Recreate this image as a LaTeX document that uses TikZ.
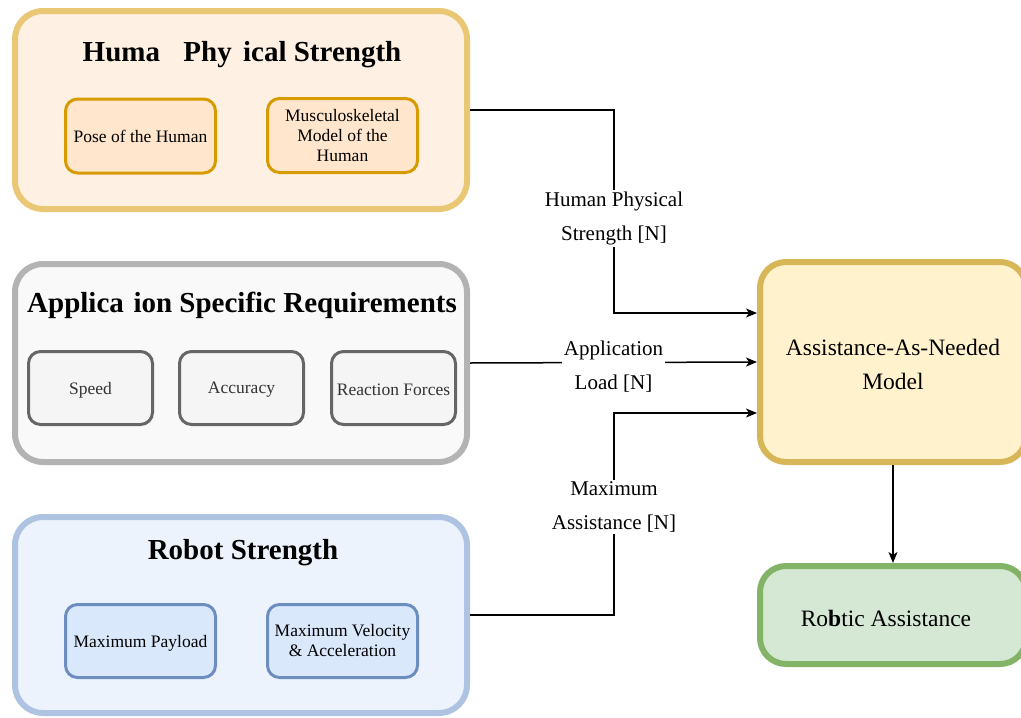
\documentclass[tikz,border=0pt]{standalone}
\usepackage{fontspec}
\setmainfont{Liberation Serif}
\usetikzlibrary{arrows.meta,calc}

\definecolor{humStroke}{HTML}{EAC775}
\definecolor{humFill}{HTML}{FEF1E4}
\definecolor{humInStroke}{HTML}{D79B00}
\definecolor{humInFill}{HTML}{FFE6CC}
\definecolor{appStroke}{HTML}{B3B3B3}
\definecolor{appFill}{HTML}{F9F9F9}
\definecolor{appInStroke}{HTML}{666666}
\definecolor{appInFill}{HTML}{F5F5F5}
\definecolor{appText}{HTML}{333333}
\definecolor{robStroke}{HTML}{AEC3E2}
\definecolor{robFill}{HTML}{EDF3FD}
\definecolor{robInStroke}{HTML}{6C8EBF}
\definecolor{robInFill}{HTML}{DAE8FC}
\definecolor{aanStroke}{HTML}{D6B656}
\definecolor{aanFill}{HTML}{FFF2CC}
\definecolor{raStroke}{HTML}{82B366}
\definecolor{raFill}{HTML}{D5E8D4}

% lower a box's ink without changing its reported size
\newcommand{\lowerby}[2]{\raisebox{-#1}[\height][\depth]{#2}}

\begin{document}
\begin{tikzpicture}[x=1pt,y=-1pt,
  group/.style={draw, line width=6pt, rounded corners=28pt,
    minimum width=452pt, minimum height=198pt, inner sep=0pt},
  part/.style={draw, line width=3pt, rounded corners=12pt,
    minimum width=150pt, minimum height=74pt, inner sep=2pt, align=center,
    font=\fontsize{17.5}{20}\selectfont},
  grouptitle/.style={font=\bfseries\fontsize{29}{32}\selectfont, inner sep=0pt},
  stage/.style={draw, line width=6pt, rounded corners=26pt,
    minimum width=266pt, align=center, inner sep=0pt,
    font=\fontsize{23.5}{34}\selectfont},
  conn/.style={line width=1.5pt, -{Stealth[length=11pt,width=9pt,inset=3pt]}},
  flowlabel/.style={fill=white, align=center, inner sep=2pt,
    font=\fontsize{21}{34}\selectfont}
]
\useasboundingbox (0,0) rectangle (1021,718);
\clip (0,0) rectangle (1021,718);

% ---- Human physical strength group ----
\node[group, draw=humStroke, fill=humFill] (hum) at (241,110) {};
\node[grouptitle] (humT) at (242,55) {Huma\phantom{n} Phy\phantom{s}ical Strength};
\node[part, draw=humInStroke, fill=humInFill] (pose) at (140.5,136) {Pose of the Human};
\node[part, draw=humInStroke, fill=humInFill] (musc) at (342.5,135.5) {Musculoskeletal\\Model of the\\Human};

% ---- Application specific requirements group ----
\node[group, draw=appStroke, fill=appFill] (app) at (241,363) {};
\node[grouptitle] (appT) at (242,305) {Applica\phantom{t}ion Specific Requirements};
\node[part, draw=appInStroke, fill=appInFill, text=appText, minimum width=124pt, minimum height=73pt] (speed) at (90.5,388) {\lowerby{2pt}{Speed}};
\node[part, draw=appInStroke, fill=appInFill, text=appText, minimum width=124pt, minimum height=73pt] (acc) at (241.5,388) {\lowerby{2pt}{Accuracy}};
\node[part, draw=appInStroke, fill=appInFill, text=appText, minimum width=124pt, minimum height=73pt] (react) at (393.5,388) {\lowerby{2pt}{Reaction Forces}};

% ---- Robot strength group ----
\node[group, draw=robStroke, fill=robFill, minimum height=196pt] (rob) at (241,615) {};
\node[grouptitle] (robT) at (243,553) {Robot Strength};
\node[part, draw=robInStroke, fill=robInFill, minimum height=73pt] (pay) at (140.5,641) {\lowerby{2pt}{Maximum Payload}};
\node[part, draw=robInStroke, fill=robInFill, minimum height=73pt] (vel) at (342.5,641) {Maximum Velocity\\\& Acceleration};

% ---- Model and output ----
\node[stage, draw=aanStroke, fill=aanFill, minimum height=200pt] (aan) at (893,362)
  {\lowerby{4pt}{\begin{tabular}{@{}c@{}}Assistance-As-Needed\\Model\end{tabular}}};
\node[stage, draw=raStroke, fill=raFill, minimum height=98pt] (ra) at (893,615)
  {\lowerby{3pt}{\hspace*{-14pt}Ro\textbf{b}tic Assistance}};

% ---- Connectors ----
\coordinate (mx) at (614,0);
\coordinate (inH) at ([yshift=49pt]aan.west);
\coordinate (inR) at ([yshift=-51pt]aan.west);

\draw[conn] (hum.east) -- (hum.east -| mx)
  -- node[flowlabel, pos=0.535] (lblH) {Human Physical\\Strength [N]} (inH -| mx) -- (inH);
\draw[conn] (app.east) -- node[flowlabel, pos=0.5, yshift=-4pt] (lblA) {Application\\Load [N]} (aan.west);
\draw[conn] (rob.east) -- (rob.east -| mx)
  -- node[flowlabel, pos=0.535] (lblR) {Maximum\\Assistance [N]} (inR -| mx) -- (inR);
\draw[conn] (aan.south) -- (ra.north);
\end{tikzpicture}
\end{document}
